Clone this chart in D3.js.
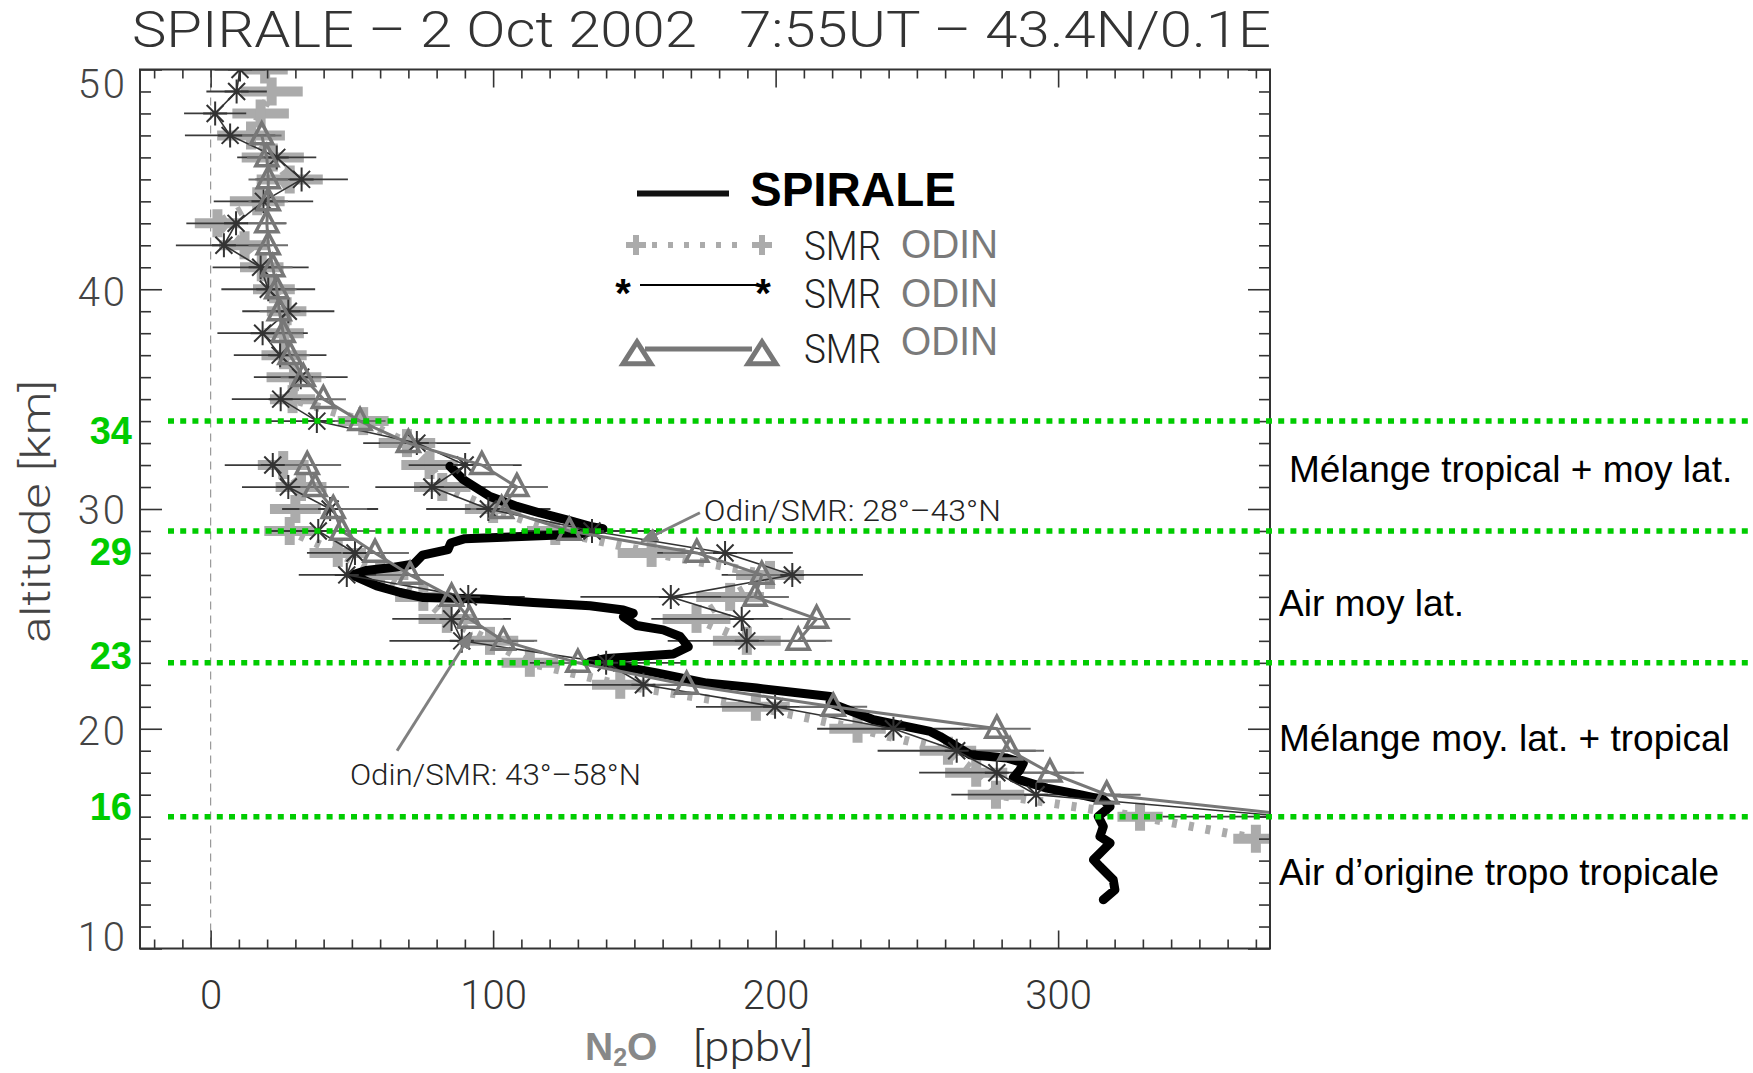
<!DOCTYPE html>
<html>
<head>
<meta charset="utf-8">
<script src="https://cdn.jsdelivr.net/npm/d3@7"></script>
<style>
  html, body { margin: 0; padding: 0; background: #fff; }
  svg { display: block; }
  .thin { font-family: Roboto, "DejaVu Sans", sans-serif; font-weight: 300; }
  .arial { font-family: "Liberation Sans", Arial, sans-serif; }
</style>
</head>
<body>
<svg id="chart" width="1753" height="1073"></svg>
<script>
// ---------------- data ----------------
// SPIRALE in-situ N2O profile (ppbv vs altitude km)
const spiraleKm = [31.94, 31.33, 30.57, 30.12, 29.82, 29.51, 29.21, 29.10,
  28.85, 28.75, 28.65, 28.45, 28.15, 27.90, 27.50, 27.35, 27.20, 27.00,
  26.50, 26.20, 25.97, 25.90, 25.75, 25.60, 25.40, 25.25, 25.10, 24.70,
  24.50, 24.20, 23.73, 23.40, 23.30, 23.20, 23.05, 22.85, 22.54, 22.08,
  21.85, 21.47, 21.17, 20.41, 19.88, 19.65, 18.82, 18.67, 18.44, 18.13,
  17.76, 17.30, 17.00, 16.77, 16.46, 16.01, 15.55, 15.10, 14.80, 14.49,
  14.04, 13.73, 13.13, 12.67, 12.22];
const spiraleN2O = [84.7, 89.5, 98.9, 108.4, 116.6, 126.1, 134.3, 138.9,
  130, 110, 90, 85, 84, 75, 72, 65, 55, 50,
  58.8, 67.1, 75.3, 96.5, 114.2, 134.3, 146.1, 149.6, 146.1, 150.8,
  160.2, 166.2, 169.1, 163.8, 152, 140.2, 134.3, 145, 157.9, 175.6,
  193.3, 219.3, 219.3, 234.6, 254.7, 258.2, 268.8, 281.8, 287.7, 286.5,
  284.1, 296, 307.7, 316, 318.4, 314.2, 316, 314.8, 318.4, 316,
  312.5, 314.8, 319.5, 320.1, 316];

// Odin/SMR, 28°-43°N band (upper profiles)
const kmA = [50, 49, 48, 47, 46, 45, 44, 43, 42, 41, 40, 39, 38, 37, 36, 35, 34,
  33, 32, 31, 30, 29, 28, 27, 26, 25, 24];
const grayA = [19.3, 21.6, 17.7, 14.3, 22.0, 28.0, 16.5, 2.4, 12, 18.1, 22.4, 26.9, 26.0, 26.0, 29.5, 29.0, 54.0,
  69.5, 77.5, 82, 100, 122, 156.1, 198, 183.9, 172, 189.8];
const grayAErr = [8, 11, 10, 12, 11, 11.7, 9.7, 8, 9, 7.7, 7.4, 7, 7, 8, 9.7, 8, 9,
  10, 10, 10, 10, 10, 12, 12, 12, 12, 12];
const starA = [10.4, 9.2, 1.6, 6.9, 23.4, 32.2, 18.7, 9.0, 4.7, 17.7, 20.4, 27.5, 18.4, 24.6, 31.9, 24.8, 37.6,
  73.0, 90.1, 78.3, 98.3, 135, 182.1, 205.9, 162.9, 188.0, 189.8];
const starAErr = [9, 10.7, 11, 16, 14, 16.4, 17.6, 17.6, 17, 17, 16.6, 16.3, 16, 16.4, 16.6, 17.3, 18,
  19, 20, 20, 22, 25, 24, 25, 32, 32, 28];
const kmTriA = [47, 46, 45, 44, 43, 42, 41, 40, 39, 38, 37, 36, 35, 34,
  33, 32, 31, 30, 29, 28, 27, 26, 25, 24];
const triA = [18.1, 19.9, 20.4, 20.4, 19.9, 20.4, 22.0, 23.4, 24.3, 25.7, 28.1, 32.8, 39.9, 52.9,
  70.0, 96.0, 108.4, 103, 127, 172.1, 195.1, 192.7, 214.5, 208.0];
const triAErr = [7, 7, 7, 7, 7, 7, 7, 7, 7, 7, 7, 8, 8, 9,
  10, 11, 11, 11, 12, 12, 12, 12, 12, 12];

// Odin/SMR, 43°-58°N band (lower profiles)
const kmB = [32, 31, 30, 29, 28, 27, 26, 25, 24, 23, 22, 21, 20, 19, 18, 17, 16];
const starB = [22.0, 27.5, 42.3, 38.1, 51.1, 48.2, 91.2, 85.3, 88.9, 140, 153.2, 199.8, 241.7, 264.1, 278.3, 292.2, 382];
const starBErr = [17, 16.4, 17, 17, 17, 17, 20, 21, 25.6, 27, 28, 28, 27, 28, 27.5, 30, 45];
const triB = [34.2, 37.0, 43.4, 46.4, 58.2, 70.6, 85.3, 91.6, 103.6, 130, 168.5, 220.4, 278.3, 283, 297.1, 317.2, 388];
const triBErr = [12, 12, 12, 12, 12, 12, 12, 12, 12, 12, 12, 12, 12, 12, 12, 12, 12];
const kmGrayB = [32, 31, 30, 29, 28, 27, 26, 25, 24, 23, 22, 21, 20, 19, 18, 17, 16, 15];
const grayB = [25.7, 32, 30, 28, 45, 60, 75.3, 83.6, 98.9, 113, 145, 193, 229, 261, 271, 278, 329, 370];
const grayBErr = [9, 9, 9, 9, 10, 10, 10, 10, 10, 10, 10, 12, 10, 10, 11, 10, 8, 8];

// air-mass boundaries (km) and the regions between them
const boundaryKm = [34, 29, 23, 16];
const boundaryLabels = ["34", "29", "23", "16"];
const regionNames = ["Mélange tropical + moy lat.", "Air moy lat.",
  "Mélange moy. lat. + tropical", "Air d\u2019origine tropo tropicale"];
const regionKm = [31.8, 25.7, 19.6, 13.5];

// axis ticks
const xTickLabels = [0, 100, 200, 300];
const yTickLabels = [10, 20, 30, 40, 50];
const legendLabels = ["SPIRALE", "SMR", "ODIN"];

// ---------------- layout ----------------
const svg = d3.select("#chart");
const F = { left: 140, right: 1270, top: 69.5, bottom: 948.5 };
const x = d3.scaleLinear().domain([-25, 375]).range([F.left, F.right]);
const y = d3.scaleLinear().domain([10, 50]).range([F.bottom, F.top]);

svg.append("rect").attr("width", 1753).attr("height", 1073).attr("fill", "#fff");

svg.append("clipPath").attr("id", "plotclip")
  .append("rect").attr("x", F.left).attr("y", F.top)
  .attr("width", F.right - F.left).attr("height", F.bottom - F.top);

const plot = svg.append("g").attr("clip-path", "url(#plotclip)");

// zero reference line
plot.append("line")
  .attr("x1", x(0)).attr("x2", x(0)).attr("y1", F.top).attr("y2", F.bottom)
  .attr("stroke", "#999").attr("stroke-width", 1.2).attr("stroke-dasharray", "8,6");

const zip = (ks, vs, es) => ks.map((k, i) => ({ km: k, v: vs[i], e: es ? es[i] : 0 }));
const line = d3.line().x(d => x(d.v)).y(d => y(d.km));

const gA = zip(kmA, grayA, grayAErr), gB = zip(kmGrayB, grayB, grayBErr);
const sA = zip(kmA, starA, starAErr), sB = zip(kmB, starB, starBErr);
const tA = zip(kmTriA, triA, triAErr), tB = zip(kmB, triB, triBErr);
const sp = zip(spiraleKm, spiraleN2O);

// light grey profile: dotted line + thick plus markers with error bars
const GREY = "#ababab";
[gA, gB].forEach(ser => {
  plot.append("path").datum(ser).attr("d", line)
    .attr("fill", "none").attr("stroke", GREY).attr("stroke-width", 9)
    .attr("stroke-dasharray", "5,12");
  const m = plot.append("g").selectAll("g").data(ser).join("g");
  m.append("line")
    .attr("x1", d => x(d.v - d.e)).attr("x2", d => x(d.v + d.e))
    .attr("y1", d => y(d.km)).attr("y2", d => y(d.km))
    .attr("stroke", GREY).attr("stroke-width", 10);
  m.append("line")
    .attr("x1", d => x(d.v)).attr("x2", d => x(d.v))
    .attr("y1", d => y(d.km) - 14).attr("y2", d => y(d.km) + 14)
    .attr("stroke", GREY).attr("stroke-width", 10);
});

// error bars of the asterisk and triangle profiles
const errBars = (ser, color, w) => plot.append("g").selectAll("line").data(ser).join("line")
  .attr("x1", d => x(d.v - d.e)).attr("x2", d => x(d.v + d.e))
  .attr("y1", d => y(d.km)).attr("y2", d => y(d.km))
  .attr("stroke", color).attr("stroke-width", w);
errBars(sA, "#3a3a3a", 1.8); errBars(sB, "#3a3a3a", 1.8);
errBars(tA, "#6e6e6e", 2); errBars(tB, "#6e6e6e", 2);

// SPIRALE
plot.append("path").datum(sp).attr("d", line)
  .attr("fill", "none").attr("stroke", "#000").attr("stroke-width", 9)
  .attr("stroke-linejoin", "round").attr("stroke-linecap", "round");

// asterisk profiles
const starPath = r => {
  const a = r * Math.cos(Math.PI / 4), b = r * Math.sin(Math.PI / 4);
  return `M${-r},0L${r},0M0,${-r}L0,${r}M${-a},${-b}L${a},${b}M${-a},${b}L${a},${-b}`;
};
[sA, sB].forEach(ser => {
  plot.append("path").datum(ser).attr("d", line)
    .attr("fill", "none").attr("stroke", "#333").attr("stroke-width", 1.6);
  plot.append("g").selectAll("path").data(ser).join("path")
    .attr("transform", d => `translate(${x(d.v)},${y(d.km)})`)
    .attr("d", starPath(12)).attr("fill", "none")
    .attr("stroke", "#333").attr("stroke-width", 2);
});

// triangle profiles
const triPath = (w, h) => `M0,${-h * 0.6}L${w / 2},${h * 0.4}L${-w / 2},${h * 0.4}Z`;
[tA, tB].forEach(ser => {
  plot.append("path").datum(ser).attr("d", line)
    .attr("fill", "none").attr("stroke", "#777").attr("stroke-width", 3);
  plot.append("g").selectAll("path").data(ser).join("path")
    .attr("transform", d => `translate(${x(d.v)},${y(d.km)})`)
    .attr("d", triPath(22, 21)).attr("fill", "none")
    .attr("stroke", "#777").attr("stroke-width", 3.5).attr("stroke-linejoin", "miter");
});

// ---------------- axes ----------------
const tickStyle = g => {
  g.select(".domain").remove();
  g.selectAll(".tick line").attr("stroke", "#333").attr("stroke-width", 1.6);
};
const xMinor = d3.range(-20, 371, 10).filter(v => v % 100 !== 0);
const xMajor = xTickLabels;
const yMinor = d3.range(11, 50, 1).filter(v => v % 10 !== 0);

// bottom
svg.append("g").attr("transform", `translate(0,${F.bottom})`)
  .call(d3.axisBottom(x).tickValues(xMinor).tickSize(-9).tickFormat("")).call(tickStyle);
const xb = svg.append("g").attr("transform", `translate(0,${F.bottom})`)
  .call(d3.axisBottom(x).tickValues(xMajor).tickSize(-18).tickPadding(32)
    .tickFormat(d3.format("d"))).call(tickStyle);
xb.selectAll("text").attr("class", "thin").attr("font-size", 40).attr("fill", "#333")
  .attr("font-family", null);
// top
svg.append("g").attr("transform", `translate(0,${F.top})`)
  .call(d3.axisTop(x).tickValues(xMinor).tickSize(-9).tickFormat("")).call(tickStyle);
svg.append("g").attr("transform", `translate(0,${F.top})`)
  .call(d3.axisTop(x).tickValues(xMajor).tickSize(-18).tickFormat("")).call(tickStyle);
// left
svg.append("g").attr("transform", `translate(${F.left},0)`)
  .call(d3.axisLeft(y).tickValues(yMinor).tickSize(-11).tickFormat("")).call(tickStyle);
const yl = svg.append("g").attr("transform", `translate(${F.left},0)`)
  .call(d3.axisLeft(y).tickValues(yTickLabels).tickSize(-22).tickPadding(12)
    .tickFormat(d3.format("d"))).call(tickStyle);
yl.selectAll("text").attr("class", "thin").attr("font-size", 40).attr("fill", "#444")
  .attr("font-family", null).attr("letter-spacing", 3)
  .attr("dy", d => d === 50 ? "0.7em" : d === 10 ? "0.05em" : d === 30 ? "0.36em" : "0.4em");
// right
svg.append("g").attr("transform", `translate(${F.right},0)`)
  .call(d3.axisRight(y).tickValues(yMinor).tickSize(-11).tickFormat("")).call(tickStyle);
svg.append("g").attr("transform", `translate(${F.right},0)`)
  .call(d3.axisRight(y).tickValues(yTickLabels).tickSize(-22).tickFormat("")).call(tickStyle);

// frame
svg.append("rect").attr("x", F.left).attr("y", F.top)
  .attr("width", F.right - F.left).attr("height", F.bottom - F.top)
  .attr("fill", "none").attr("stroke", "#333").attr("stroke-width", 2);

// ---------------- air-mass boundaries ----------------
svg.append("g").selectAll("line").data(boundaryKm).join("line")
  .attr("x1", 168).attr("x2", 1753)
  .attr("y1", d => y(d)).attr("y2", d => y(d))
  .attr("stroke", "#00cc00").attr("stroke-width", 5.5).attr("stroke-dasharray", "6,6.2");
const labelShift = [9, 21, -7, -10];
svg.append("g").selectAll("text").data(boundaryKm).join("text")
  .attr("class", "arial").attr("font-weight", "bold").attr("font-size", 38)
  .attr("fill", "#00cc00").attr("text-anchor", "end")
  .attr("x", 132).attr("y", (d, i) => y(d) + labelShift[i] + 13.5)
  .text((d, i) => boundaryLabels[i]);

// region names between the boundaries
svg.append("g").selectAll("text").data(regionNames).join("text")
  .attr("class", "arial").attr("font-size", 37).attr("fill", "#000")
  .attr("x", (d, i) => i === 0 ? 1289 : 1279)
  .attr("y", (d, i) => y(regionKm[i]) + 13)
  .text(d => d);

// ---------------- annotations ----------------
svg.append("defs").append("marker").attr("id", "arrow")
  .attr("viewBox", "0 0 10 10").attr("refX", 9).attr("refY", 5)
  .attr("markerWidth", 6).attr("markerHeight", 6).attr("orient", "auto")
  .append("path").attr("d", "M0,1L10,5L0,9Z").attr("fill", "#808080");
const notes = [
  { text: "Odin/SMR: 28°\u201343°N", tx: 174.6, tk: 29.45, from: [173.2, 29.83], to: [152.6, 28.52], w: 297 },
  { text: "Odin/SMR: 43°\u201358°N", tx: 49.3, tk: 17.45, from: [66.0, 19.0], to: [92.4, 24.36], w: 291 }
];
notes.forEach(n => {
  svg.append("line")
    .attr("x1", x(n.from[0])).attr("y1", y(n.from[1]))
    .attr("x2", x(n.to[0])).attr("y2", y(n.to[1]))
    .attr("stroke", "#808080").attr("stroke-width", 3).attr("marker-end", "url(#arrow)");
  svg.append("text").attr("class", "thin").attr("font-size", 29).attr("fill", "#222")
    .attr("x", x(n.tx)).attr("y", y(n.tk))
    .attr("textLength", n.w).attr("lengthAdjust", "spacingAndGlyphs")
    .text(n.text);
});

// ---------------- titles ----------------
svg.append("text").attr("class", "thin").attr("font-size", 50).attr("fill", "#333")
  .attr("x", 132).attr("y", 47).style("white-space", "pre")
  .attr("textLength", 1139).attr("lengthAdjust", "spacingAndGlyphs")
  .text("SPIRALE \u2013 2 Oct 2002   7:55UT \u2013 43.4N/0.1E");

svg.append("text").attr("class", "thin").attr("font-size", 40).attr("fill", "#444")
  .attr("transform", `translate(50,${643}) rotate(-90)`)
  .attr("textLength", 263).attr("lengthAdjust", "spacingAndGlyphs")
  .text("altitude [km]");

const xt = svg.append("text").attr("y", 1060);
xt.append("tspan").attr("class", "arial").attr("font-weight", "bold").attr("font-size", 39)
  .attr("fill", "#888").attr("x", 585).text("N");
xt.append("tspan").attr("class", "arial").attr("font-weight", "bold").attr("font-size", 25)
  .attr("fill", "#888").attr("dy", 6).text("2");
xt.append("tspan").attr("class", "arial").attr("font-weight", "bold").attr("font-size", 39)
  .attr("fill", "#888").attr("dy", -6).text("O");
svg.append("text").attr("class", "thin").attr("font-size", 40).attr("fill", "#333")
  .attr("x", 693).attr("y", 1061).attr("textLength", 120).attr("lengthAdjust", "spacingAndGlyphs")
  .text("[ppbv]");

// ---------------- legend ----------------
const lg = svg.append("g");
lg.append("line").attr("x1", 637).attr("x2", 729).attr("y1", 193.5).attr("y2", 193.5)
  .attr("stroke", "#111").attr("stroke-width", 6);
lg.append("text").attr("class", "arial").attr("font-weight", "bold").attr("font-size", 47.5)
  .attr("fill", "#000").attr("x", 750).attr("y", 206).text(legendLabels[0]);

// grey plus / dotted
lg.append("line").attr("x1", 652).attr("x2", 748).attr("y1", 245).attr("y2", 245)
  .attr("stroke", GREY).attr("stroke-width", 6).attr("stroke-dasharray", "5,11");
[636, 762].forEach(cx => {
  lg.append("line").attr("x1", cx - 10).attr("x2", cx + 10).attr("y1", 245).attr("y2", 245)
    .attr("stroke", GREY).attr("stroke-width", 6);
  lg.append("line").attr("x1", cx).attr("x2", cx).attr("y1", 235).attr("y2", 255)
    .attr("stroke", GREY).attr("stroke-width", 6);
});
// asterisk / thin line
lg.append("line").attr("x1", 640).attr("x2", 757).attr("y1", 285).attr("y2", 285)
  .attr("stroke", "#000").attr("stroke-width", 2);
[623, 763].forEach(cx => {
  lg.append("text").attr("class", "arial").attr("font-weight", "bold").attr("font-size", 40)
    .attr("text-anchor", "middle").attr("x", cx).attr("y", 307).text("*");
});
// triangle / thick grey line
lg.append("line").attr("x1", 645).attr("x2", 752).attr("y1", 349).attr("y2", 349)
  .attr("stroke", "#777").attr("stroke-width", 5);
[637, 762].forEach(cx => {
  lg.append("path").attr("transform", `translate(${cx},355)`)
    .attr("d", triPath(28, 22)).attr("fill", "none")
    .attr("stroke", "#777").attr("stroke-width", 5);
});
// row captions
[[260, 258], [308, 307], [363, 355]].forEach(([ys, yo]) => {
  lg.append("text").attr("class", "thin").attr("font-size", 40).attr("fill", "#222")
    .attr("x", 804).attr("y", ys).attr("textLength", 77).attr("lengthAdjust", "spacingAndGlyphs")
    .text(legendLabels[1]);
  lg.append("text").attr("class", "arial").attr("font-size", 40).attr("fill", "#7a7a7a")
    .attr("x", 901).attr("y", yo).attr("textLength", 97).attr("lengthAdjust", "spacingAndGlyphs")
    .text(legendLabels[2]);
});
</script>
</body>
</html>
